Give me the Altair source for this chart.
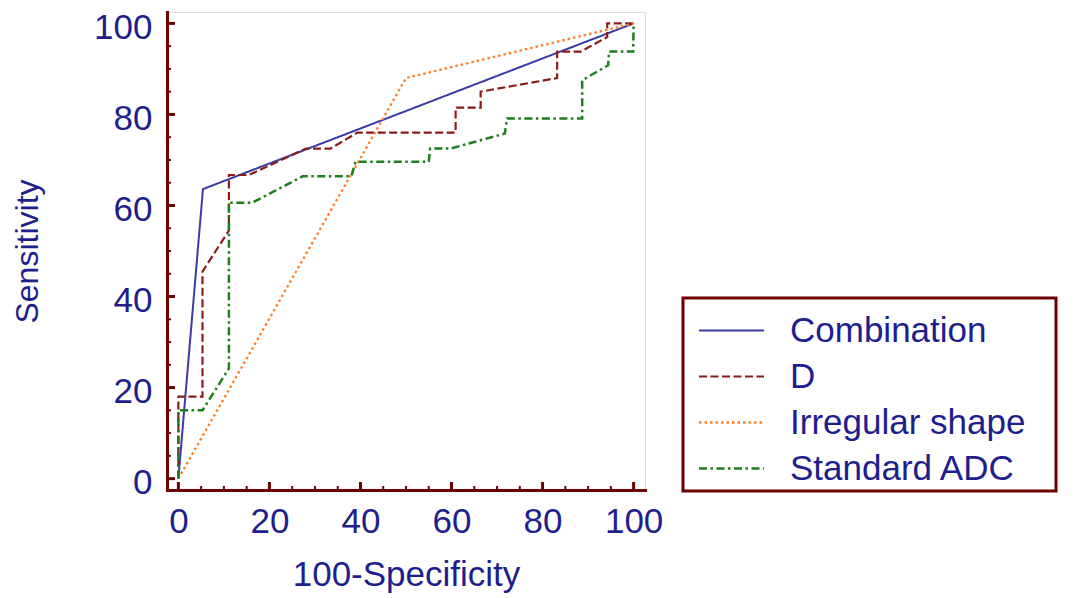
import altair as alt
import pandas as pd

# ---- data ----
series_names = ["Combination", "D", "Irregular shape", "Standard ADC"]

comb_x = [0, 5.4, 100]
comb_y = [0, 63.6, 100]

d_x = [0, 0, 5.3, 5.3, 11.1, 11.1, 15.5, 28.0, 33.4, 39.3, 60.9, 60.9, 66.4, 66.4, 83.2, 83.2, 88.4, 94.2, 94.2, 100]
d_y = [0, 18, 18, 45.5, 54.5, 66.7, 66.7, 72.5, 72.5, 76.0, 76.0, 81.5, 81.5, 85.0, 88.0, 93.8, 93.8, 97.0, 100, 100]

irr_x = [0, 50, 100]
irr_y = [0, 88, 100]

adc_x = [0, 0, 5.3, 11.1, 11.1, 16.2, 27.3, 38.0, 38.9, 55.0, 55.3, 59.8, 71.7, 72.2, 88.7, 88.7, 94.4, 94.6, 99.9, 100]
adc_y = [0, 15, 15, 24.2, 60.6, 60.6, 66.4, 66.4, 69.6, 69.6, 72.5, 72.5, 75.8, 79.1, 79.1, 87.5, 90.8, 93.8, 93.8, 100]

tick_major = [0, 20, 40, 60, 80, 100]
tick_minor = [5, 10, 15, 25, 30, 35, 45, 50, 55, 65, 70, 75, 85, 90, 95]

# ---- styles ----
axis_color = "#6E0000"
text_color = "#1E1E8C"
colors = ["#3A3AA8", "#8B1A1A", "#FF7F27", "#1E7E1E"]
dashes = [[1, 0], [8, 3.5], [2.5, 3], [8, 3.5, 2.5, 3.5]]
widths = [2, 2.5, 3, 2.5]
FONT = "Liberation Sans"

rows = []
for name, xs, ys in zip(series_names, [comb_x, d_x, irr_x, adc_x], [comb_y, d_y, irr_y, adc_y]):
    for i, (xv, yv) in enumerate(zip(xs, ys)):
        rows.append({"series": name, "fpr": xv, "sens": yv, "idx": i})
df = pd.DataFrame(rows)

ticks_df = pd.DataFrame(
    [{"v": v, "kind": "major"} for v in tick_major] + [{"v": v, "kind": "minor"} for v in tick_minor]
)

W = 478
H = 478
x_scale = alt.Scale(domain=[-2.5, 102.5], nice=False, zero=False)
y_scale = alt.Scale(domain=[-2.5, 102.5], nice=False, zero=False)

PAD_CHARS = "\u2800"
legend = alt.Legend(
    title=" ",
    orient="none",
    legendX=516,
    legendY=286,
    direction="vertical",
    symbolType="M-2.6,0H2.6",
    symbolSize=625,
    symbolStrokeWidth=2.5,
    symbolOffset=27,
    labelOffset=41,
    labelFontSize=35,
    labelFont=FONT,
    labelColor=text_color,
    labelLimit=500,
    labelExpr="datum.label + '" + PAD_CHARS + "'",
    padding=4,
    rowPadding=10,
    strokeColor=axis_color,
    fillColor="white",
    titleFontSize=8,
    titlePadding=3,
)

x_axis = alt.Axis(
    values=tick_major,
    title="100-Specificity",
    grid=False,
    domainColor=axis_color,
    domainWidth=3,
    domainCap="square",
    ticks=False,
    tickSize=0,
    labelFontSize=35,
    labelFont=FONT,
    labelColor=text_color,
    labelPadding=14,
    labelFlush=False,
    labelOverlap=False,
    titleFontSize=35,
    titleFont=FONT,
    titleColor=text_color,
    titleFontWeight="normal",
    titleX=239,
    titleY=95,
    titleBaseline="alphabetic",
    titleAlign="center",
)

y_axis = alt.Axis(
    values=tick_major,
    title="Sensitivity",
    grid=False,
    domainColor=axis_color,
    domainWidth=3,
    domainCap="square",
    ticks=False,
    tickSize=0,
    labelFontSize=35,
    labelFont=FONT,
    labelColor=text_color,
    labelPadding=15,
    labelOffset=4,
    labelFlush=False,
    labelOverlap=False,
    titleFontSize=32,
    titleFont=FONT,
    titleColor=text_color,
    titleFontWeight="normal",
    titleX=-130,
    titleY=239,
    titleAngle=270,
    titleBaseline="alphabetic",
    titleAlign="center",
)

lines = alt.Chart(df).mark_line().encode(
    x=alt.X("fpr:Q", scale=x_scale, axis=x_axis),
    y=alt.Y("sens:Q", scale=y_scale, axis=y_axis),
    color=alt.Color("series:N", scale=alt.Scale(domain=series_names, range=colors), legend=legend),
    strokeDash=alt.StrokeDash("series:N", scale=alt.Scale(domain=series_names, range=dashes), legend=legend),
    strokeWidth=alt.StrokeWidth("series:N", scale=alt.Scale(domain=series_names, range=widths), legend=None),
    order=alt.Order("idx:Q"),
)

base_t = alt.Chart(ticks_df)
x_major = base_t.transform_filter("datum.kind == 'major'").mark_rule(color=axis_color, strokeWidth=3).encode(
    x=alt.X("v:Q", scale=x_scale, axis=x_axis), y=alt.value(H), y2=alt.value(H - 8)
)
x_minor = base_t.transform_filter("datum.kind == 'minor'").mark_rule(color=axis_color, strokeWidth=2).encode(
    x=alt.X("v:Q", scale=x_scale, axis=x_axis), y=alt.value(H), y2=alt.value(H - 4)
)
y_major = base_t.transform_filter("datum.kind == 'major'").mark_rule(color=axis_color, strokeWidth=3).encode(
    y=alt.Y("v:Q", scale=y_scale, axis=y_axis), x=alt.value(0), x2=alt.value(8)
)
y_minor = base_t.transform_filter("datum.kind == 'minor'").mark_rule(color=axis_color, strokeWidth=2).encode(
    y=alt.Y("v:Q", scale=y_scale, axis=y_axis), x=alt.value(0), x2=alt.value(4)
)

chart = alt.layer(x_major, x_minor, y_major, y_minor, lines).properties(
    width=W,
    height=H,
    autosize=alt.AutoSizeParams(type="none"),
    padding={"left": 159, "top": 4, "right": 431, "bottom": 106},
    background="white",
).configure_view(stroke="transparent", strokeWidth=0).configure(font=FONT).configure_legend(strokeWidth=3)

chart.save("out.html", embed_options={"renderer": "svg", "actions": False})
